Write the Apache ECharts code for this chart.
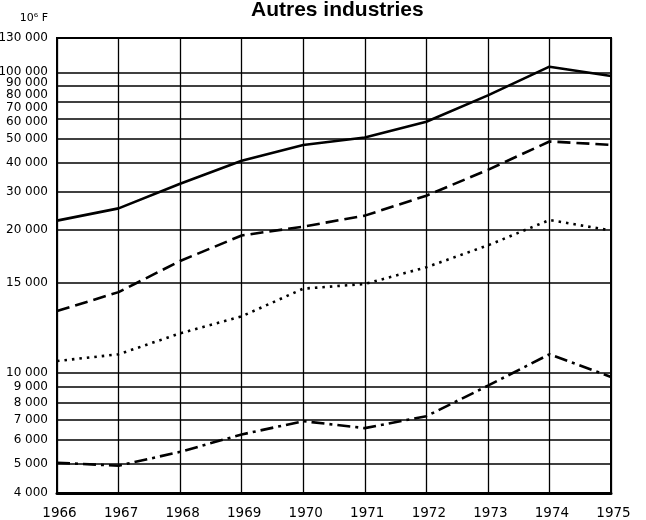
<!DOCTYPE html>
<html>
<head>
<meta charset="utf-8">
<script src="https://cdn.jsdelivr.net/npm/echarts@6/dist/echarts.min.js"></script>
<style>
    html, body {margin: 0; padding: 0; background: #fff;}
    #chart {width: 646px; height: 520px;}
</style>
</head>
<body>
<div id="chart"></div>
<script>
// years on the x axis
const years = ['1966', '1967', '1968', '1969', '1970', '1971', '1972', '1973', '1974', '1975']
// values (10^6 F)
const solidValues = [32150, 35300, 42600, 50800, 57300, 60700, 68500, 83800, 104400, 97200]
const dashedValues = [16090, 18600, 23600, 28700, 30700, 33400, 38900, 47400, 58900, 57400]
const dottedValues = [10980, 11560, 13570, 15450, 19100, 19800, 22500, 26600, 32300, 29800]
const dashDotValues = [5040, 4930, 5480, 6260, 6930, 6570, 7200, 9090, 11560, 9720]
// horizontal rules of the printed grid
const gridValues = [5000, 6000, 7000, 8000, 9000, 10000, 20000, 30000, 40000, 50000, 60000, 70000, 80000, 90000, 100000]
// printed tick labels and where they sit on the scale
const yTickValues = [4000, 5000, 6000, 7000, 8000, 9000, 10000, 20000, 30000, 40000, 50000, 60000, 68500, 76000, 84000, 92000, 100000, 130000]
const yTickLabels = ['4 000', '5 000', '6 000', '7 000', '8 000', '9 000', '10 000', '15 000', '20 000', '30 000', '40 000', '50 000', '60 000', '70 000', '80 000', '90 000', '100 000', '130 000']

let chart = echarts.init(document.getElementById('chart'))
chart.setOption({
    animation: false,
    title: {
        text: 'Autres industries',
        left: 251,
        top: 0,
        padding: 0,
        textStyle: {
            fontFamily: 'Liberation Sans',
            fontWeight: 'bold',
            fontSize: 21,
            color: '#000'
        }
    },
    grid: {
        left: 57,
        right: 35,
        top: 38,
        bottom: 27,
        show: true,
        borderColor: '#000',
        borderWidth: 2
    },
    xAxis: {
        type: 'category',
        data: years,
        boundaryGap: false,
        axisLine: {
            show: true,
            lineStyle: {color: '#000', width: 3}
        },
        axisTick: {show: false},
        axisLabel: {
            margin: 13,
            color: '#000',
            fontFamily: 'DejaVu Sans',
            fontSize: 13.5,
            padding: [0, 0, 0, 5]
        },
        splitLine: {
            show: true,
            lineStyle: {color: '#000', width: 1.3}
        }
    },
    yAxis: {
        type: 'log',
        logBase: 10,
        min: 4000,
        max: 130000,
        name: '10\u2076 F',
        nameLocation: 'end',
        nameGap: 14,
        nameTextStyle: {
            align: 'right',
            padding: [0, 9, 0, 0],
            color: '#000',
            fontFamily: 'DejaVu Sans',
            fontSize: 11
        },
        axisLine: {
            show: true,
            lineStyle: {color: '#000', width: 2}
        },
        axisTick: {show: false},
        axisLabel: {show: false},
        splitLine: {show: false}
    },
    series: [
        {
            name: 'trait plein',
            type: 'line',
            data: solidValues,
            symbol: 'none',
            lineStyle: {color: '#000', width: 2.6},
            markLine: {
                silent: true,
                symbol: 'none',
                label: {show: false},
                lineStyle: {color: '#000', width: 1.5, type: 'solid'},
                data: gridValues.map(v => ({yAxis: v}))
            }
        },
        {
            name: 'tirets',
            type: 'line',
            data: dashedValues,
            symbol: 'none',
            lineStyle: {color: '#000', width: 2.6, type: [13, 6]},
            markLine: {
                silent: true,
                symbol: 'none',
                lineStyle: {color: 'rgba(0,0,0,0)', width: 0},
                label: {
                    show: true,
                    position: 'start',
                    distance: 9,
                    formatter: '{b}',
                    color: '#000',
                    fontFamily: 'DejaVu Sans',
                    fontSize: 12
                },
                data: yTickValues.map((v, i) => ({name: yTickLabels[i], yAxis: v}))
            }
        },
        {
            name: 'pointillé',
            type: 'line',
            data: dottedValues,
            symbol: 'none',
            lineStyle: {color: '#000', width: 2.6, type: [2.5, 5]}
        },
        {
            name: 'trait mixte',
            type: 'line',
            data: dashDotValues,
            symbol: 'none',
            lineStyle: {color: '#000', width: 2.6, type: [13, 5, 3, 5]}
        }
    ]
})
</script>
</body>
</html>
